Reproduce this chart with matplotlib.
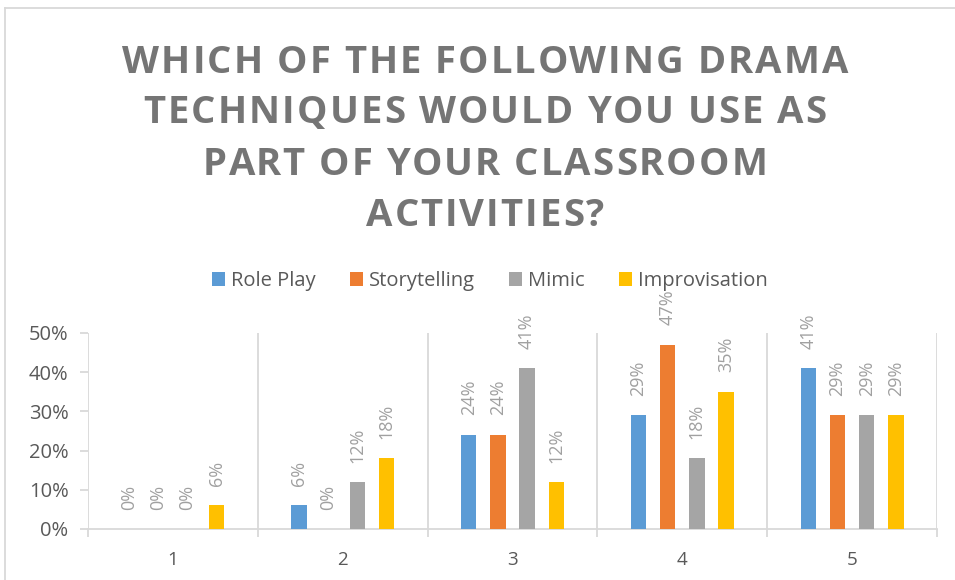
import numpy as np
import matplotlib
matplotlib.use('Agg')
from matplotlib import pyplot as plt
from matplotlib.lines import Line2D
from matplotlib.patches import Patch

# ---DATA--- #
categories = ['1', '2', '3', '4', '5']
series_names = ['Role Play', 'Storytelling', 'Mimic', 'Improvisation']
role_play = [0.00, 0.06, 0.24, 0.29, 0.41]
storytelling = [0.00, 0.00, 0.24, 0.47, 0.29]
mimic = [0.00, 0.12, 0.41, 0.18, 0.29]
improvisation = [0.06, 0.18, 0.12, 0.35, 0.29]
yticks = [0, 0.1, 0.2, 0.3, 0.4, 0.5]
title_lines = ['WHICH OF THE FOLLOWING DRAMA', 'TECHNIQUES WOULD YOU USE AS',
               'PART OF YOUR CLASSROOM', 'ACTIVITIES?']

colors = ['#5B9BD5', '#ED7D31', '#A5A5A5', '#FFC000']
grid_c = '#D9D9D9'
plt.rcParams['font.family'] = ['Open Sans', 'DejaVu Sans']

W, H = 955, 580
fig = plt.figure(figsize=(9.55, 5.8), dpi=100)
ax = fig.add_axes([88/W, 1-529/H, (937-88)/W, (529-333)/H])

x = np.arange(len(categories))
step = 0.172
width = 0.09
all_series = [role_play, storytelling, mimic, improvisation]
for i, (vals, c) in enumerate(zip(all_series, colors)):
    pos = x + (i - 1.5) * step
    ax.bar(pos, vals, width=width, color=c, zorder=3)
    for p, v in zip(pos, vals):
        ax.annotate('%d%%' % round(v*100), (p, v), xytext=(0, 14), textcoords='offset points',
                    rotation=90, ha='center', va='bottom', fontsize=13, color='#A0A0A0')

ax.set_xlim(-0.5, len(categories) - 0.5)
ax.set_ylim(0, 0.5)
ax.set_yticks(yticks)
ax.set_yticklabels(['%d%%' % round(t*100) for t in yticks])
ax.set_xticks(x)
ax.set_xticklabels(categories)
ax.set_xticks(np.arange(-0.5, len(categories)), minor=True)
ax.tick_params(axis='x', which='major', length=0, pad=16, labelsize=13.5, labelcolor='#595959')
ax.tick_params(axis='x', which='minor', length=6, color=grid_c, width=1.3)
ax.tick_params(axis='y', length=6, width=1.3, color=grid_c, pad=8, labelsize=14.5, labelcolor='#595959')
ax.grid(axis='x', which='minor', color=grid_c, linewidth=1.3, zorder=0)
for s in ['top', 'right', 'left']:
    ax.spines[s].set_visible(False)
ax.spines['bottom'].set_color(grid_c)
ax.spines['bottom'].set_linewidth(1.3)

handles = [Patch(facecolor=c, edgecolor='none') for c in colors]
fig.legend(handles, series_names, loc='center', bbox_to_anchor=(490/W, 1-281/H), ncol=4,
           frameon=False, handlelength=0.65, handleheight=0.65, handletextpad=0.3,
           columnspacing=1.7, prop={'size': 14.5}, labelcolor='#595959')

# title with letter spacing (drawn char by char)
renderer = fig.canvas.get_renderer()
tkw = dict(fontsize=27.5, fontweight='bold', color='#757575')

def text_w(s):
    t = fig.text(0, 0, s, **tkw)
    w = t.get_window_extent(renderer).width
    t.remove()
    return w

track = (726 - text_w(title_lines[0])) / (len(title_lines[0]) - 1)
baselines = [73, 123, 175, 226]
wH = text_w('H')
for line, yb in zip(title_lines, baselines):
    total = text_w(line) + track * (len(line) - 1)
    x0 = 485 - total / 2
    for k, ch in enumerate(line):
        if ch == ' ':
            continue
        off = (text_w(line[:k] + 'H') - wH) if k > 0 else 0
        fig.text((x0 + off + k * track) / W, 1 - yb / H, ch, ha='left', va='baseline', **tkw)

# chart border
fig.add_artist(Line2D([5/W, 1], [1-8/H, 1-8/H], color=grid_c, lw=1.3, transform=fig.transFigure))
fig.add_artist(Line2D([5/W, 5/W], [0, 1-8/H], color=grid_c, lw=1.3, transform=fig.transFigure))

fig.savefig('out.png', dpi=100)
